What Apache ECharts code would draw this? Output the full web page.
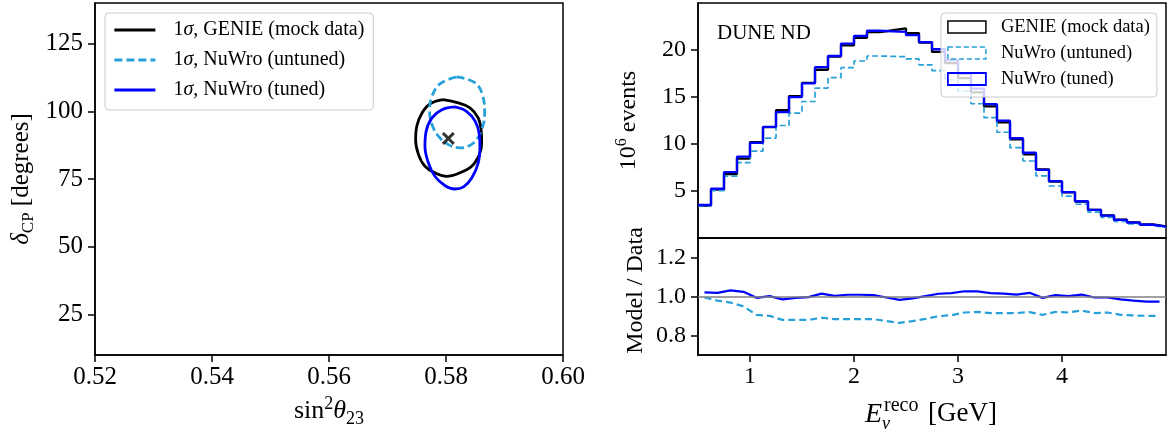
<!DOCTYPE html>
<html><head><meta charset="utf-8">
<script src="https://cdn.jsdelivr.net/npm/echarts@6/dist/echarts.min.js"></script>
<style>html,body{margin:0;padding:0;background:#fff}#c{width:1170px;height:436px}</style>
</head><body><div id="c"></div>
<script>
// ---------- data ----------
const genieContour = [[0.5795,104.3],[0.5821,103.1],[0.5841,101.3],[0.5855,97.6],[0.5860,93.2],[0.5861,88.3],[0.5857,84.0],[0.5844,79.7],[0.5824,77.3],[0.5801,76.0],[0.5781,77.3],[0.5764,79.7],[0.5753,84.0],[0.5748,89.6],[0.5750,94.5],[0.5759,99.4],[0.5773,102.8],[0.5795,104.3]];
const untunedContour = [[0.5818,112.7],[0.5850,110.5],[0.5863,105.5],[0.5866,99.4],[0.5861,93.2],[0.5847,88.3],[0.5824,86.5],[0.5804,87.7],[0.5787,90.8],[0.5776,95.1],[0.5772,100.0],[0.5776,105.5],[0.5790,110.2],[0.5818,112.7]];
const tunedContour = [[0.5815,101.6],[0.5835,100.0],[0.5850,96.3],[0.5857,91.4],[0.5858,87.1],[0.5855,80.9],[0.5844,75.4],[0.5830,72.1],[0.5815,71.3],[0.5798,72.6],[0.5781,76.0],[0.5770,80.9],[0.5764,87.1],[0.5766,92.6],[0.5776,97.6],[0.5793,100.6],[0.5815,101.6]];
const bestFit = [[0.5804, 90]];
const sinTicks = [0.52, 0.54, 0.56, 0.58, 0.60];
const deltaTicks = [25, 50, 75, 100, 125];

const binEdges = [0.5,0.625,0.75,0.875,1,1.125,1.25,1.375,1.5,1.625,1.75,1.875,2,2.125,2.25,2.375,2.5,2.625,2.75,2.875,3,3.125,3.25,3.375,3.5,3.625,3.75,3.875,4,4.125,4.25,4.375,4.5,4.625,4.75,4.875,5];
const genieEvents = [3.44,5.14,6.80,8.45,10.2,11.8,13.6,15.1,16.5,17.9,19.3,20.5,21.3,21.9,22.1,22.3,21.8,20.8,19.8,18.6,17.0,15.5,14.0,12.3,10.5,8.9,7.3,6.0,4.86,3.87,3.0,2.4,1.95,1.67,1.45,1.24];
const nuwroUntuned = [3.42,5.03,6.59,8.02,9.24,10.63,11.97,13.29,14.52,15.95,17.06,18.12,18.83,19.36,19.32,19.29,19.05,18.41,17.80,16.81,15.61,14.28,12.81,11.25,9.61,8.19,6.61,5.53,4.46,3.59,2.75,2.20,1.77,1.51,1.31,1.12];
const nuwroTuned = [3.51,5.24,7.01,8.65,10.13,11.82,13.40,14.99,16.45,18.17,19.36,20.68,21.49,22.05,21.99,21.92,21.58,20.84,20.08,18.92,17.46,15.90,14.24,12.48,10.61,9.07,7.25,6.04,4.87,3.91,2.99,2.39,1.92,1.63,1.41,1.21];
const ratioUntuned = [0.995,0.979,0.969,0.949,0.906,0.901,0.880,0.880,0.880,0.891,0.884,0.884,0.884,0.884,0.874,0.865,0.874,0.885,0.899,0.904,0.918,0.921,0.915,0.915,0.915,0.920,0.906,0.921,0.918,0.928,0.915,0.918,0.906,0.903,0.901,0.901];
const ratioTuned = [1.021,1.019,1.031,1.024,0.993,1.002,0.985,0.993,0.997,1.015,1.003,1.009,1.009,1.007,0.995,0.983,0.990,1.002,1.014,1.017,1.027,1.026,1.017,1.015,1.010,1.019,0.993,1.007,1.002,1.010,0.995,0.995,0.985,0.979,0.974,0.974];
const energyTicks = [1, 2, 3, 4];
const eventTicks = [5, 10, 15, 20];
const ratioTicks = [0.8, 1.0, 1.2];

// ---------- helpers ----------
const SERIF = '"Liberation Serif","Times New Roman",serif';
const BLACK = '#000000', LIGHT = '#27a0da', BLUE = '#0000ff';
const stepData = v => binEdges.map((e, i) => [e, v[Math.min(i, v.length - 1)]]);
const centers = binEdges.slice(0, -1).map((e, i) => (e + binEdges[i + 1]) / 2);
const lineData = v => centers.map((c, i) => [c, v[i]]);

const axisCommon = (fs) => ({
  type: 'value',
  axisLine: { show: true, onZero: false, lineStyle: { color: '#000', width: 1.5 } },
  axisTick: { show: true, inside: false, length: 7, lineStyle: { color: '#000', width: 1.5 } },
  axisLabel: { show: true, color: '#000', fontFamily: SERIF, fontSize: fs },
  splitLine: { show: false }
});

const chart = echarts.init(document.getElementById('c'), null, { renderer: 'canvas' });

const option = {
  animation: false,
  backgroundColor: '#fff',
  grid: [
    { left: 95, top: 3, width: 468, height: 352, show: true, borderColor: '#000', borderWidth: 1.5, backgroundColor: 'transparent' },
    { left: 698, top: 3, width: 468, height: 235, show: true, borderColor: '#000', borderWidth: 1.5, backgroundColor: 'transparent' },
    { left: 698, top: 238, width: 468, height: 117, show: true, borderColor: '#000', borderWidth: 1.5, backgroundColor: 'transparent' }
  ],
  xAxis: [
    Object.assign(axisCommon(25), {
      gridIndex: 0, min: 0.52, max: 0.60,
      axisTick: { show: true, length: 7, customValues: sinTicks, lineStyle: { color: '#000', width: 1.5 } },
      axisLabel: { color: '#000', fontFamily: SERIF, fontSize: 25, margin: 10, customValues: sinTicks, formatter: v => v.toFixed(2) },
      name: 'sin{sup|2}{it|θ}{sub|23}', nameLocation: 'middle', nameGap: 37,
      nameTextStyle: { color: '#000', fontFamily: SERIF, fontSize: 26, lineHeight: 33,
        rich: {
          sup: { fontFamily: SERIF, fontSize: 18, verticalAlign: 'top', lineHeight: 33, color: '#000' },
          it: { fontFamily: SERIF, fontSize: 26, fontStyle: 'italic', lineHeight: 33, color: '#000' },
          sub: { fontFamily: SERIF, fontSize: 18, verticalAlign: 'bottom', lineHeight: 33, color: '#000' }
        } }
    }),
    Object.assign(axisCommon(24), {
      gridIndex: 1, min: 0.5, max: 5,
      axisTick: { show: false }, axisLabel: { show: false }
    }),
    Object.assign(axisCommon(24), {
      gridIndex: 2, min: 0.5, max: 5,
      axisTick: { show: true, length: 7, customValues: energyTicks, lineStyle: { color: '#000', width: 1.5 } },
      axisLabel: { color: '#000', fontFamily: SERIF, fontSize: 24, margin: 10, customValues: energyTicks, formatter: v => String(v) }
    })
  ],
  yAxis: [
    Object.assign(axisCommon(25), {
      gridIndex: 0, min: 10, max: 140,
      axisTick: { show: true, length: 7, customValues: deltaTicks, lineStyle: { color: '#000', width: 1.5 } },
      axisLabel: { color: '#000', fontFamily: SERIF, fontSize: 25, margin: 12, customValues: deltaTicks },
      name: '{it|δ}{sub|CP} [degrees]', nameLocation: 'middle', nameGap: 58, nameRotate: 90,
      nameTextStyle: { color: '#000', fontFamily: SERIF, fontSize: 25, lineHeight: 32,
        rich: {
          it: { fontFamily: SERIF, fontSize: 25, fontStyle: 'italic', lineHeight: 32, color: '#000' },
          sub: { fontFamily: SERIF, fontSize: 17, verticalAlign: 'bottom', lineHeight: 32, color: '#000' }
        } }
    }),
    Object.assign(axisCommon(24), {
      gridIndex: 1, min: 0, max: 25,
      axisTick: { show: true, length: 7, customValues: eventTicks, lineStyle: { color: '#000', width: 1.5 } },
      axisLabel: { color: '#000', fontFamily: SERIF, fontSize: 24, margin: 12, customValues: eventTicks },
      name: '10{sup|6} events', nameLocation: 'middle', nameGap: 54, nameRotate: 90,
      nameTextStyle: { color: '#000', fontFamily: SERIF, fontSize: 24, lineHeight: 30,
        rich: { sup: { fontFamily: SERIF, fontSize: 16, verticalAlign: 'top', lineHeight: 30, color: '#000' } } }
    }),
    Object.assign(axisCommon(24), {
      gridIndex: 2, min: 0.7, max: 1.3,
      axisTick: { show: true, length: 7, customValues: ratioTicks, lineStyle: { color: '#000', width: 1.5 } },
      axisLabel: { color: '#000', fontFamily: SERIF, fontSize: 24, margin: 12, customValues: ratioTicks, formatter: v => v.toFixed(1) },
      name: 'Model / Data', nameLocation: 'middle', nameGap: 50, nameRotate: 90,
      nameTextStyle: { color: '#000', fontFamily: SERIF, fontSize: 24, padding: [0, 0, 0, 12] }
    })
  ],
  legend: [
    {
      left: 105, top: 13, orient: 'vertical',
      data: ['1σ, GENIE (mock data)', '1σ, NuWro (untuned)', '1σ, NuWro (tuned)'],
      itemWidth: 41, itemHeight: 14, itemGap: 6,
      padding: [5, 9, 8, 8],
      backgroundColor: 'rgba(255,255,255,0.8)', borderColor: '#cccccc', borderWidth: 1, borderRadius: 4,
      itemStyle: { opacity: 0 },
      lineStyle: { width: 2.8 },
      formatter: n => n.replace('σ', '{i|σ}'),
      textStyle: { color: '#000', fontFamily: SERIF, fontSize: 20, lineHeight: 24, padding: [0, 0, 0, 13],
        rich: { i: { fontFamily: SERIF, fontSize: 20, fontStyle: 'italic', color: '#000' } } },
      selectedMode: false
    },
    {
      left: 941, top: 13, orient: 'vertical',
      data: [
        { name: 'GENIE (mock data)', icon: 'rect', itemStyle: { color: 'transparent', borderColor: BLACK, borderWidth: 1.5 } },
        { name: 'NuWro (untuned)', icon: 'rect', itemStyle: { color: 'transparent', borderColor: LIGHT, borderWidth: 1.5, borderType: [5, 3] } },
        { name: 'NuWro (tuned)', icon: 'rect', itemStyle: { color: 'transparent', borderColor: BLUE, borderWidth: 1.8 } }
      ],
      itemWidth: 38, itemHeight: 12, itemGap: 6,
      padding: [4, 7, 8, 6],
      backgroundColor: 'rgba(255,255,255,0.8)', borderColor: '#cccccc', borderWidth: 1, borderRadius: 4,
      textStyle: { color: '#000', fontFamily: SERIF, fontSize: 18.5, lineHeight: 20, padding: [0, 0, 0, 10] },
      selectedMode: false
    }
  ],
  graphic: [
    { type: 'text', left: 717, top: 23, style: { text: 'DUNE ND', font: '21px ' + SERIF, fill: '#000' } },
    { type: 'group', left: 865, top: 396, children: [
      { type: 'text', x: 0, y: 3, style: { text: 'E', font: 'italic 28px ' + SERIF, fill: '#000' } },
      { type: 'text', x: 19, y: -2, style: { text: 'reco', font: '20px ' + SERIF, fill: '#000' } },
      { type: 'text', x: 17, y: 17, style: { text: 'ν', font: 'italic 18px ' + SERIF, fill: '#000' } },
      { type: 'text', x: 63, y: 2, style: { text: '[GeV]', font: '27px ' + SERIF, fill: '#000' } }
    ] }
  ],
  series: [
    { name: '1σ, GENIE (mock data)', type: 'line', xAxisIndex: 0, yAxisIndex: 0, data: genieContour, smooth: 0.4, symbol: 'none',
      lineStyle: { color: BLACK, width: 2.8 }, itemStyle: { color: BLACK } },
    { name: '1σ, NuWro (untuned)', type: 'line', xAxisIndex: 0, yAxisIndex: 0, data: untunedContour, smooth: 0.4, symbol: 'none',
      lineStyle: { color: LIGHT, width: 2.8, type: [8, 4] }, itemStyle: { color: LIGHT } },
    { name: '1σ, NuWro (tuned)', type: 'line', xAxisIndex: 0, yAxisIndex: 0, data: tunedContour, smooth: 0.4, symbol: 'none',
      lineStyle: { color: BLUE, width: 2.8 }, itemStyle: { color: BLUE } },
    { name: 'best fit', type: 'scatter', xAxisIndex: 0, yAxisIndex: 0, data: bestFit, symbolSize: 13,
      symbol: 'path://M0,1.6 L1.6,0 L5,3.4 L8.4,0 L10,1.6 L6.6,5 L10,8.4 L8.4,10 L5,6.6 L1.6,10 L0,8.4 L3.4,5 Z',
      itemStyle: { color: '#000' }, z: 5 },

    { name: 'GENIE (mock data)', type: 'line', xAxisIndex: 1, yAxisIndex: 1, data: stepData(genieEvents), step: 'end', symbol: 'none',
      lineStyle: { color: BLACK, width: 2.3 }, itemStyle: { color: BLACK } },
    { name: 'NuWro (untuned)', type: 'line', xAxisIndex: 1, yAxisIndex: 1, data: stepData(nuwroUntuned), step: 'end', symbol: 'none',
      lineStyle: { color: LIGHT, width: 1.7, type: [6, 3] }, itemStyle: { color: LIGHT } },
    { name: 'NuWro (tuned)', type: 'line', xAxisIndex: 1, yAxisIndex: 1, data: stepData(nuwroTuned), step: 'end', symbol: 'none',
      lineStyle: { color: BLUE, width: 2.3 }, itemStyle: { color: BLUE } },

    { name: 'ratio untuned', type: 'line', xAxisIndex: 2, yAxisIndex: 2, data: lineData(ratioUntuned), symbol: 'none',
      lineStyle: { color: LIGHT, width: 2.2, type: [7, 4] },
      markLine: { silent: true, symbol: 'none', label: { show: false }, lineStyle: { color: '#808080', width: 1.5, type: 'solid' }, data: [{ yAxis: 1 }] } },
    { name: 'ratio tuned', type: 'line', xAxisIndex: 2, yAxisIndex: 2, data: lineData(ratioTuned), symbol: 'none',
      lineStyle: { color: BLUE, width: 2.2 } }
  ]
};
chart.setOption(option);
</script>
</body></html>
